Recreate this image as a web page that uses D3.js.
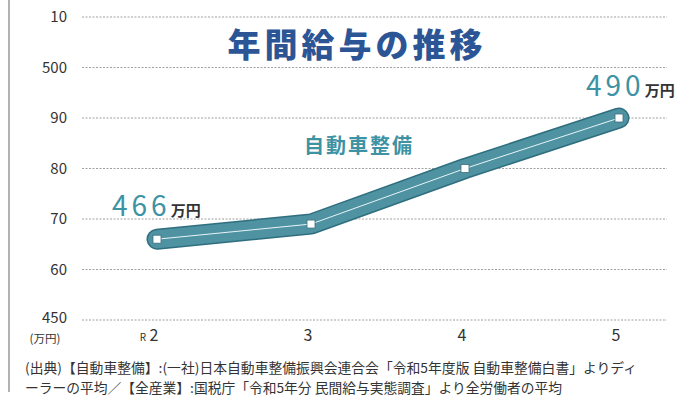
<!DOCTYPE html>
<html>
<head>
<meta charset="utf-8">
<script src="https://cdn.jsdelivr.net/npm/d3@7"></script>
<style>
  body { margin: 0; background: #fff; }
  svg { display: block; font-family: "Noto Sans CJK JP", "Noto Sans", sans-serif; }
</style>
</head>
<body>
<div id="chart"></div>
<script>
// data
const years = ["2", "3", "4", "5"];
const salary = [466, 469, 480, 490];
const yTicks = [450, 460, 470, 480, 490, 500, 510];
const yTickLabels = ["450", "60", "70", "80", "90", "500", "10"];

const width = 684;
const height = 401;

const svg = d3.select("#chart")
    .append("svg")
    .attr("width", width)
    .attr("height", height);

// left border line
svg.append("line")
    .attr("x1", 9).attr("x2", 9)
    .attr("y1", 0).attr("y2", 392)
    .attr("stroke", "#999")
    .attr("stroke-width", 1.5);

const x = d3.scalePoint()
    .domain(years)
    .range([157, 619]);

const y = d3.scaleLinear()
    .domain([450, 510])
    .range([320, 17]);

// gridlines
svg.append("g")
    .selectAll("line")
    .data(yTicks)
    .join("line")
    .attr("x1", 82)
    .attr("x2", 667)
    .attr("y1", d => y(d))
    .attr("y2", d => y(d))
    .attr("stroke", "#888")
    .attr("stroke-width", 0.8)
    .attr("stroke-dasharray", "2,1.5");

// y tick labels
svg.append("g")
    .selectAll("text")
    .data(yTicks)
    .join("text")
    .attr("x", 67)
    .attr("y", d => y(d))
    .attr("dy", d => d === 450 ? "0.2em" : "0.35em")
    .attr("text-anchor", "end")
    .attr("font-size", 15)
    .attr("fill", "#333")
    .text((d, i) => yTickLabels[i]);

svg.append("text")
    .attr("x", 45)
    .attr("y", 343)
    .attr("text-anchor", "middle")
    .attr("font-size", 11.5)
    .attr("fill", "#333")
    .text("(万円)");

// x labels
svg.append("g")
    .selectAll("text")
    .data(years)
    .join("text")
    .attr("x", d => x(d) - 3)
    .attr("y", 341)
    .attr("text-anchor", "middle")
    .attr("font-size", 16)
    .attr("fill", "#333")
    .text(d => d);

svg.append("text")
    .attr("x", x(years[0]) - 11)
    .attr("y", 341)
    .attr("text-anchor", "end")
    .attr("font-size", 10)
    .attr("fill", "#333")
    .text("R");

// line
const line = d3.line()
    .x((d, i) => x(years[i]))
    .y(d => y(d));

svg.append("path")
    .datum(salary)
    .attr("d", line)
    .attr("fill", "none")
    .attr("stroke", "#2f6e7e")
    .attr("stroke-width", 21)
    .attr("stroke-linecap", "round")
    .attr("stroke-linejoin", "round");

svg.append("path")
    .datum(salary)
    .attr("d", line)
    .attr("fill", "none")
    .attr("stroke", "#4f93a3")
    .attr("stroke-width", 18)
    .attr("stroke-linecap", "round")
    .attr("stroke-linejoin", "round");

svg.append("path")
    .datum(salary)
    .attr("d", line)
    .attr("fill", "none")
    .attr("stroke", "#e8f4f6")
    .attr("stroke-width", 1);

svg.append("g")
    .selectAll("rect")
    .data(salary)
    .join("rect")
    .attr("x", (d, i) => x(years[i]) - 4)
    .attr("y", d => y(d) - 4)
    .attr("width", 8)
    .attr("height", 8)
    .attr("fill", "#fff")
    .attr("stroke", "#3a6f7c")
    .attr("stroke-width", 0.8);

// title
svg.append("text")
    .attr("x", 357)
    .attr("y", 57)
    .attr("text-anchor", "middle")
    .attr("font-size", 33)
    .attr("font-weight", 900)
    .attr("letter-spacing", 4)
    .attr("fill", "#2c5596")
    .attr("stroke", "#fff")
    .attr("stroke-width", 4)
    .attr("paint-order", "stroke")
    .text("年間給与の推移");

svg.append("text")
    .attr("x", 359)
    .attr("y", 153)
    .attr("text-anchor", "middle")
    .attr("font-size", 20)
    .attr("font-weight", 700)
    .attr("letter-spacing", 2)
    .attr("fill", "#3d92a3")
    .text("自動車整備");

// value labels
function valueLabel(xPos, yPos, val) {
    const t = svg.append("text")
        .attr("x", xPos)
        .attr("y", yPos)
        .attr("font-size", 28)
        .attr("fill", "#3d92a3")
        .attr("letter-spacing", 4);
    t.append("tspan").text(val);
    t.append("tspan")
        .attr("font-size", 15)
        .attr("font-weight", 700)
        .attr("letter-spacing", 0)
        .attr("fill", "#333")
        .text("万円");
}
valueLabel(112, 216, salary[0]);
valueLabel(586, 96, salary[3]);

// source note
const notes = [
    "(出典)【自動車整備】:(一社)日本自動車整備振興会連合会「令和5年度版 自動車整備白書」よりディ",
    "ーラーの平均／【全産業】:国税庁「令和5年分 民間給与実態調査」より全労働者の平均"
];
const noteWidths = [612, 537];
svg.append("g")
    .selectAll("text")
    .data(notes)
    .join("text")
    .attr("x", 25)
    .attr("y", (d, i) => 373 + i * 20)
    .attr("font-size", 13.5)
    .attr("fill", "#333")
    .attr("textLength", (d, i) => noteWidths[i])
    .attr("lengthAdjust", "spacingAndGlyphs")
    .text(d => d);
</script>
</body>
</html>
